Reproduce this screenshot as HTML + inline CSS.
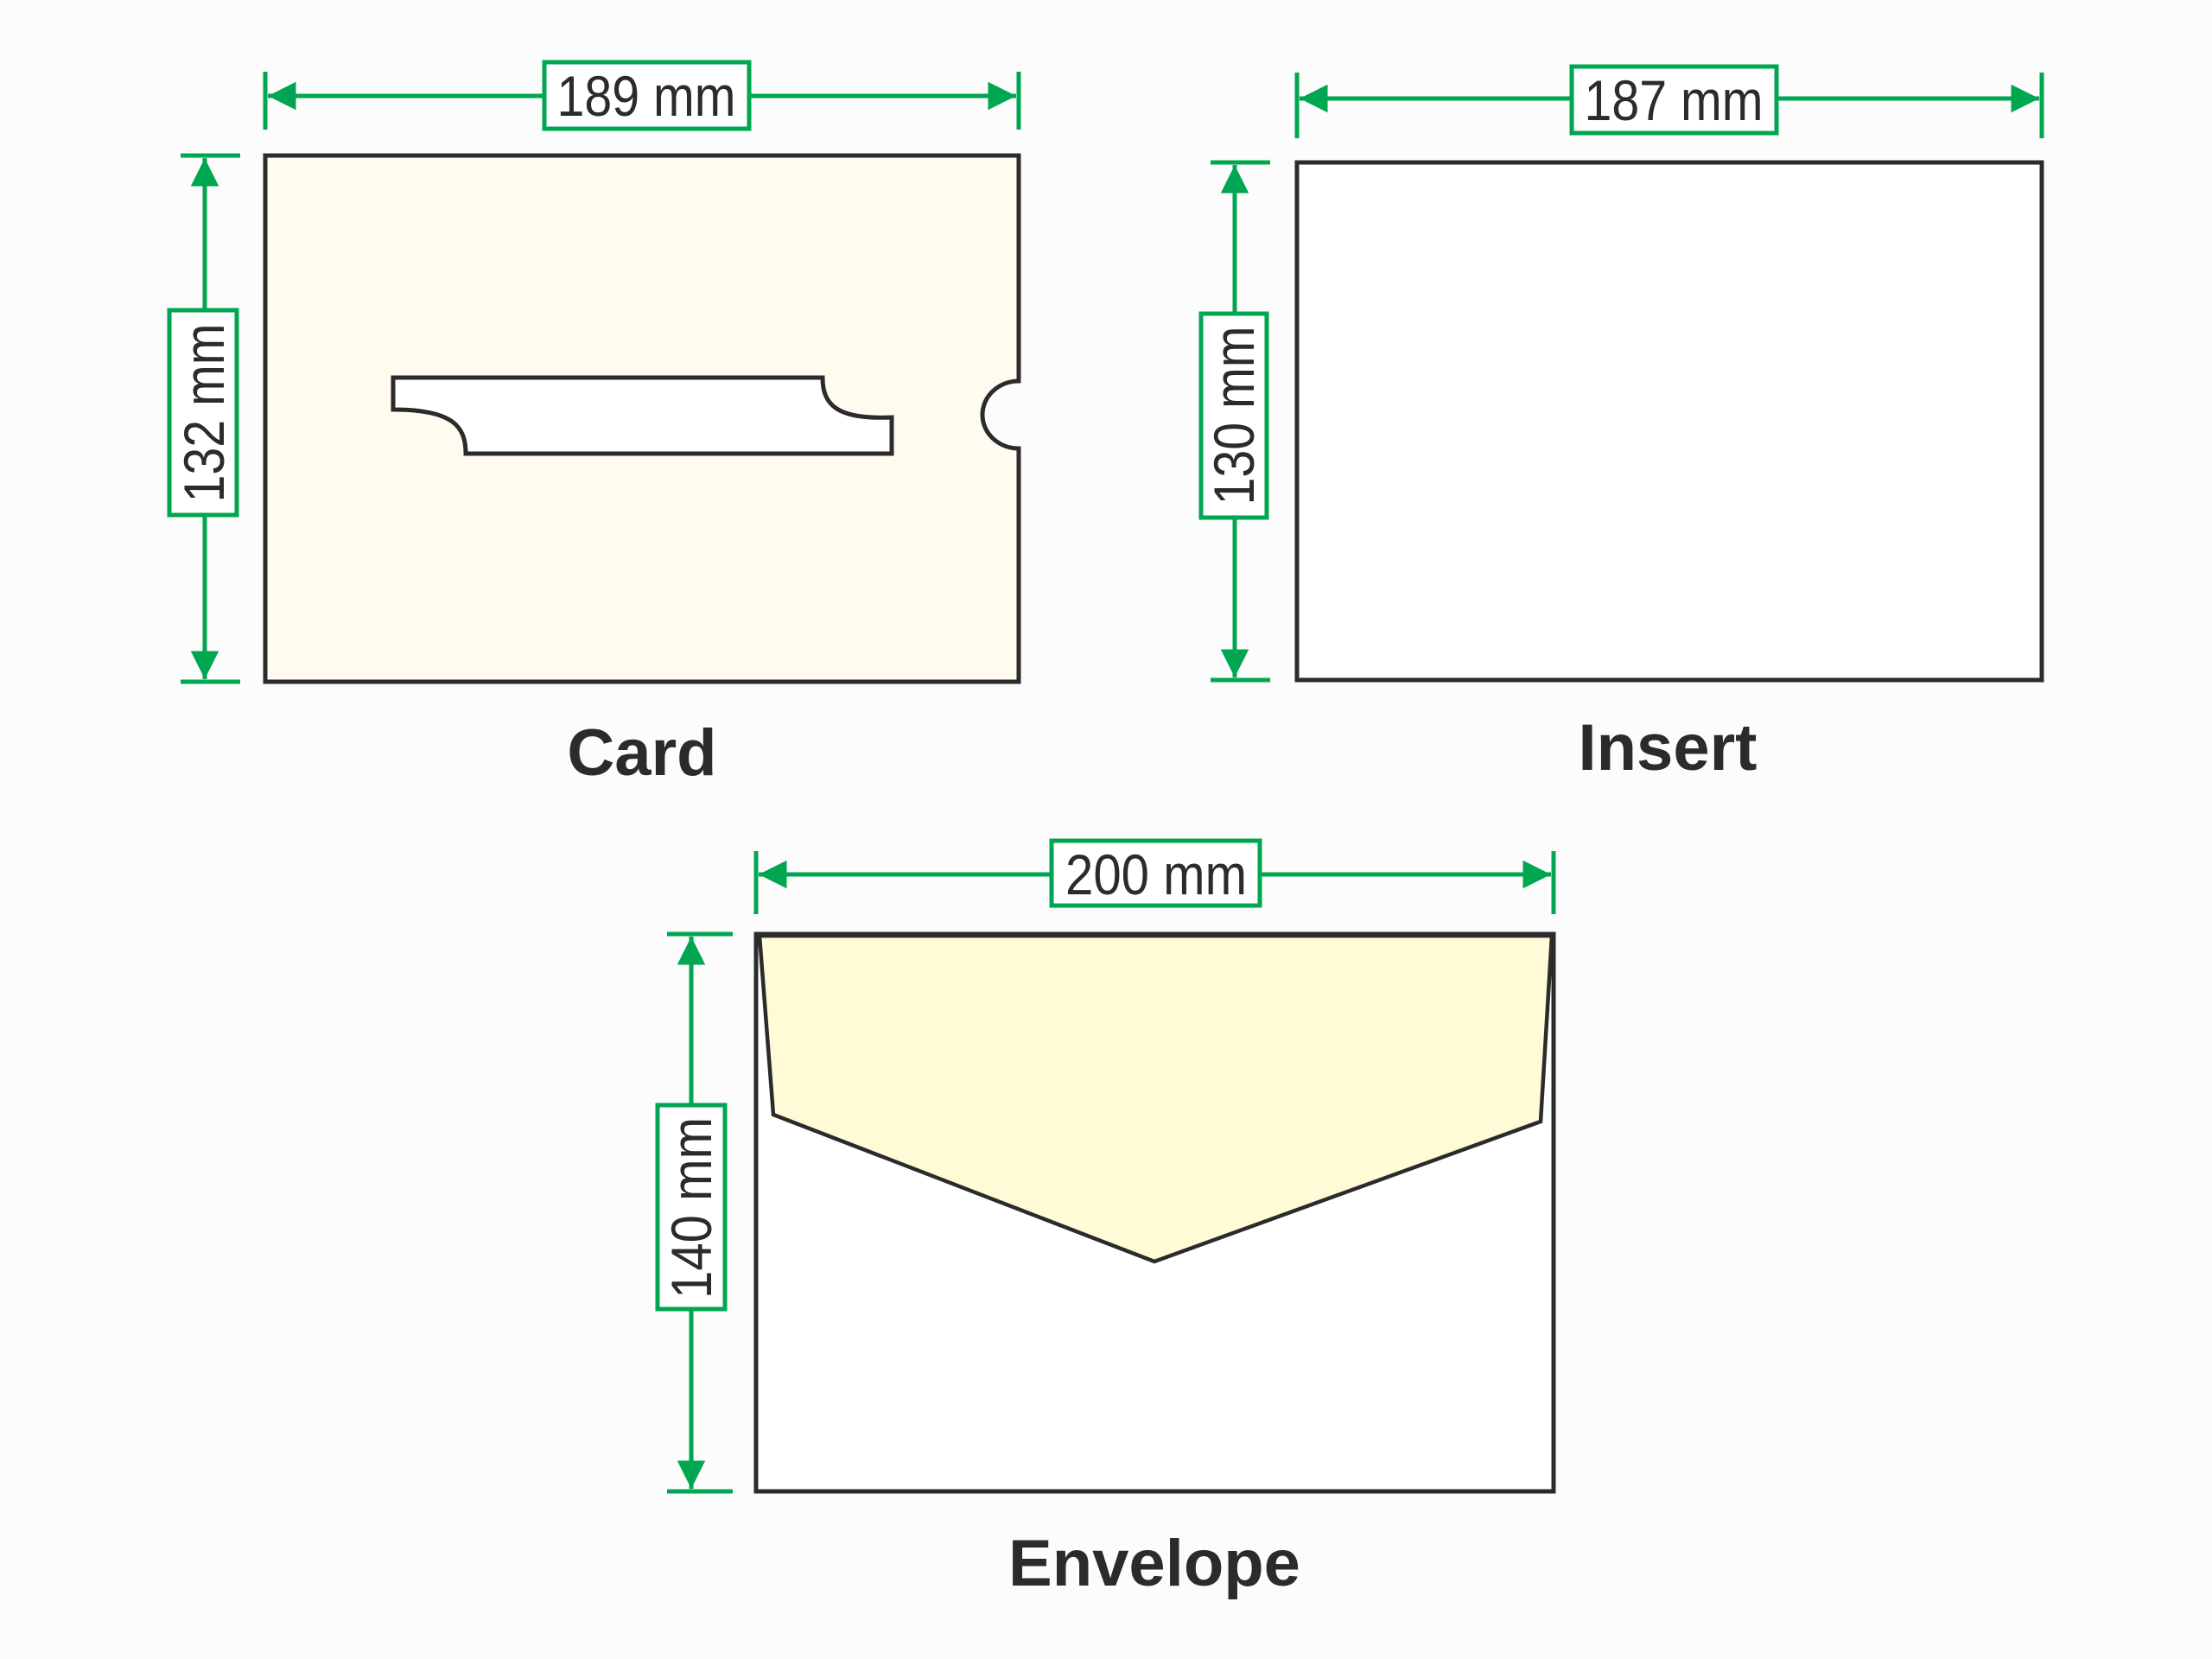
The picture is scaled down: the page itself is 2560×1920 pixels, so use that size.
<!DOCTYPE html>
<html><head><meta charset="utf-8"><style>
html,body{margin:0;padding:0;background:#fcfcfc;}
svg{display:block;}
text{font-family:"Liberation Sans",sans-serif;fill:#2b2b2b;}
</style></head><body>
<svg width="2560" height="1920" viewBox="0 0 2560 1920" xmlns="http://www.w3.org/2000/svg">
<defs>
<marker id="ah" viewBox="0 0 10 10" refX="10" refY="5" markerWidth="8" markerHeight="6.5" markerUnits="strokeWidth" orient="auto-start-reverse">
<path d="M0,0 L10,5 L0,10 z" fill="#00a651"/>
</marker>
</defs>
<rect x="0" y="0" width="2560" height="1920" fill="#fcfcfc"/>

<!-- CARD -->
<path d="M307,180 H1179 V441 A42,39 0 0 0 1179,519 V789 H307 Z" fill="#fffbef" stroke="#2b2b2b" stroke-width="5"/>
<path d="M455,437 H952 C952,468 968,486 1032,483 V525 H539 C539,494 525,474 455,474 Z" fill="#ffffff" stroke="#2b2b2b" stroke-width="5"/>
<g stroke="#00a651" stroke-width="5" fill="none">
<line x1="307" y1="83" x2="307" y2="150"/>
<line x1="1179" y1="83" x2="1179" y2="150"/>
<line x1="310" y1="111" x2="630" y2="111" marker-start="url(#ah)"/>
<line x1="867" y1="111" x2="1176" y2="111" marker-end="url(#ah)"/>
<rect x="630" y="72" width="237" height="77" fill="#fff"/>
<line x1="209" y1="180" x2="278" y2="180"/>
<line x1="209" y1="789" x2="278" y2="789"/>
<line x1="237" y1="183" x2="237" y2="359" marker-start="url(#ah)"/>
<line x1="237" y1="596" x2="237" y2="786" marker-end="url(#ah)"/>
<rect x="196" y="359" width="78" height="237" fill="#fff"/>
</g>
<text x="748" y="134" font-size="66" text-anchor="middle" textLength="207" lengthAdjust="spacingAndGlyphs">189 mm</text>
<text transform="translate(259,478) rotate(-90)" font-size="66" text-anchor="middle" textLength="207" lengthAdjust="spacingAndGlyphs">132 mm</text>
<text x="743" y="897" font-size="76" font-weight="bold" text-anchor="middle">Card</text>

<!-- INSERT -->
<rect x="1501" y="188" width="862" height="599" fill="#ffffff" stroke="#2b2b2b" stroke-width="5"/>
<g stroke="#00a651" stroke-width="5" fill="none">
<line x1="1501" y1="84" x2="1501" y2="160"/>
<line x1="2363" y1="84" x2="2363" y2="160"/>
<line x1="1504" y1="114" x2="1819" y2="114" marker-start="url(#ah)"/>
<line x1="2056" y1="114" x2="2360" y2="114" marker-end="url(#ah)"/>
<rect x="1819" y="77" width="237" height="77" fill="#fff"/>
<line x1="1401" y1="188" x2="1470" y2="188"/>
<line x1="1401" y1="787" x2="1470" y2="787"/>
<line x1="1429" y1="191" x2="1429" y2="363" marker-start="url(#ah)"/>
<line x1="1429" y1="599" x2="1429" y2="784" marker-end="url(#ah)"/>
<rect x="1390" y="363" width="76" height="236" fill="#fff"/>
</g>
<text x="1937" y="139" font-size="66" text-anchor="middle" textLength="207" lengthAdjust="spacingAndGlyphs">187 mm</text>
<text transform="translate(1451,481) rotate(-90)" font-size="66" text-anchor="middle" textLength="207" lengthAdjust="spacingAndGlyphs">130 mm</text>
<text x="1930" y="891" font-size="76" font-weight="bold" text-anchor="middle">Insert</text>

<!-- ENVELOPE -->
<rect x="875" y="1081" width="923" height="645" fill="#ffffff" stroke="#2b2b2b" stroke-width="5"/>
<path d="M879,1083 L895,1290 L1336,1460 L1783,1298 L1796,1083 Z" fill="#fffbd6" stroke="#2b2b2b" stroke-width="4.5" stroke-linejoin="miter"/>
<line x1="875" y1="1081" x2="1798" y2="1081" stroke="#2b2b2b" stroke-width="5"/>
<g stroke="#00a651" stroke-width="5" fill="none">
<line x1="875" y1="985" x2="875" y2="1058"/>
<line x1="1798" y1="985" x2="1798" y2="1058"/>
<line x1="878" y1="1012" x2="1217" y2="1012" marker-start="url(#ah)"/>
<line x1="1458" y1="1012" x2="1795" y2="1012" marker-end="url(#ah)"/>
<rect x="1217" y="973" width="241" height="75" fill="#fff"/>
<line x1="772" y1="1081" x2="848" y2="1081"/>
<line x1="772" y1="1726" x2="848" y2="1726"/>
<line x1="800" y1="1084" x2="800" y2="1279" marker-start="url(#ah)"/>
<line x1="800" y1="1515" x2="800" y2="1723" marker-end="url(#ah)"/>
<rect x="761" y="1279" width="78" height="236" fill="#fff"/>
</g>
<text x="1338" y="1035" font-size="66" text-anchor="middle" textLength="210" lengthAdjust="spacingAndGlyphs">200 mm</text>
<text transform="translate(823,1398) rotate(-90)" font-size="66" text-anchor="middle" textLength="210" lengthAdjust="spacingAndGlyphs">140 mm</text>
<text x="1336" y="1835" font-size="76" font-weight="bold" text-anchor="middle">Envelope</text>
</svg>
</body></html>
